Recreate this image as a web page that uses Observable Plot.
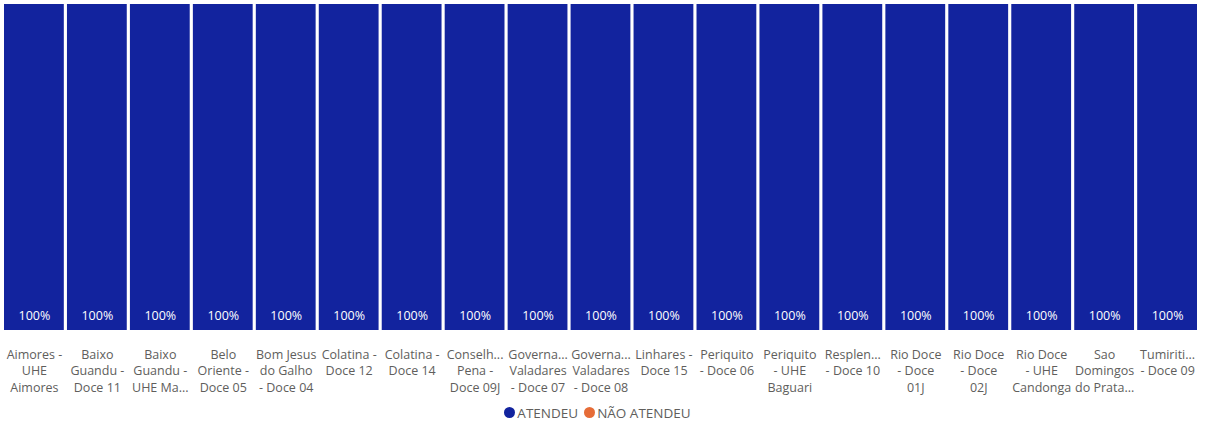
<!DOCTYPE html>
<html>
<head>
<meta charset="utf-8">
<script src="https://cdn.jsdelivr.net/npm/d3@7"></script>
<script src="https://cdn.jsdelivr.net/npm/@observablehq/plot@0.6"></script>
<style>
  html, body { margin: 0; padding: 0; background: #fff; }
  body { width: 1205px; height: 425px; overflow: hidden; font-family: "Open Sans", "Noto Sans", sans-serif; }
  #legend { display: flex; justify-content: center; align-items: center; gap: 6px; font-size: 13.5px; color: #605E5C; height: 25px; margin-left: -10px; }
  #legend span.item { display: inline-flex; align-items: center; gap: 2px; }
  #legend span.dot { width: 11px; height: 11px; border-radius: 50%; display: inline-block; }
</style>
</head>
<body>
<div id="chart"></div>
<div id="legend"></div>
<script>
const categories = [
  "Aimores - UHE Aimores", "Baixo Guandu - Doce 11", "Baixo Guandu - UHE Ma...",
  "Belo Oriente - Doce 05", "Bom Jesus do Galho - Doce 04", "Colatina - Doce 12",
  "Colatina - Doce 14", "Conselh... Pena - Doce 09J", "Governa... Valadares - Doce 07",
  "Governa... Valadares - Doce 08", "Linhares - Doce 15", "Periquito - Doce 06",
  "Periquito - UHE Baguari", "Resplen... - Doce 10", "Rio Doce - Doce 01J",
  "Rio Doce - Doce 02J", "Rio Doce - UHE Candonga", "Sao Domingos do Prata...",
  "Tumiriti... - Doce 09"
];
const tickLabels = [
  "Aimores -\nUHE\nAimores", "Baixo\nGuandu -\nDoce 11", "Baixo\nGuandu -\nUHE Ma...",
  "Belo\nOriente -\nDoce 05", "Bom Jesus\ndo Galho\n- Doce 04", "Colatina -\nDoce 12",
  "Colatina -\nDoce 14", "Conselh...\nPena -\nDoce 09J", "Governa...\nValadares\n- Doce 07",
  "Governa...\nValadares\n- Doce 08", "Linhares -\nDoce 15", "Periquito\n- Doce 06",
  "Periquito\n- UHE\nBaguari", "Resplen...\n- Doce 10", "Rio Doce\n- Doce\n01J",
  "Rio Doce\n- Doce\n02J", "Rio Doce\n- UHE\nCandonga", "Sao\nDomingos\ndo Prata...",
  "Tumiriti...\n- Doce 09"
];
const atendeu = [100,100,100,100,100,100,100,100,100,100,100,100,100,100,100,100,100,100,100];
const naoAtendeu = [0,0,0,0,0,0,0,0,0,0,0,0,0,0,0,0,0,0,0];
const seriesNames = ["ATENDEU", "NÃO ATENDEU"];
const seriesColors = ["#12239E", "#E66C37"];

const rows = [];
categories.forEach((c, i) => {
  rows.push({cat: c, status: seriesNames[0], value: atendeu[i]});
  rows.push({cat: c, status: seriesNames[1], value: naoAtendeu[i]});
});
const labelOf = new Map(categories.map((c, i) => [c, tickLabels[i]]));

const chart = Plot.plot({
  width: 1205,
  height: 400,
  marginTop: 4,
  marginBottom: 70,
  marginLeft: 4,
  marginRight: 8,
  style: {fontFamily: "'Open Sans', 'Noto Sans', sans-serif", fontSize: "12px", color: "#605E5C"},
  x: {domain: categories, paddingInner: 0.05, paddingOuter: 0, round: false, label: null},
  y: {domain: [0, 100], axis: null},
  color: {domain: seriesNames, range: seriesColors},
  marks: [
    Plot.barY(rows, {x: "cat", y: "value", fill: "status", order: seriesNames}),
    Plot.text(rows.filter(d => d.status === seriesNames[0] && d.value > 0), {
      x: "cat", y: 0, text: d => d.value + "%", dy: -15, fill: "white", fontSize: 12.5
    }),
    Plot.axisX({tickSize: 0, tickPadding: 17, fontSize: 12.5, lineHeight: 1.3, fill: "#605E5C",
      tickFormat: d => labelOf.get(d), textAnchor: "middle", label: null})
  ]
});
document.getElementById("chart").appendChild(chart);

const legend = document.getElementById("legend");
seriesNames.forEach((n, i) => {
  const s = document.createElement("span");
  s.className = "item";
  s.innerHTML = `<span class="dot" style="background:${seriesColors[i]}"></span>${n}`;
  legend.appendChild(s);
});
</script>
</body>
</html>
